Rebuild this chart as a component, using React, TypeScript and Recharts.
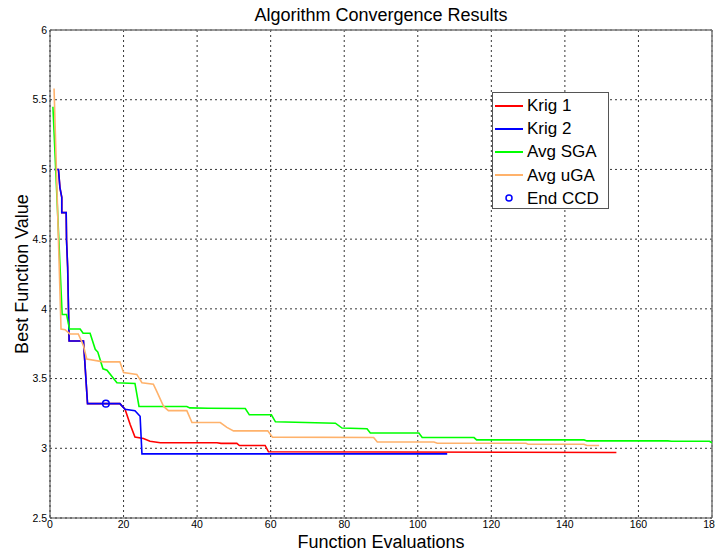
import React from "react";
import {
  ComposedChart,
  Line,
  Scatter,
  XAxis,
  YAxis,
  CartesianGrid,
  ReferenceLine,
  Legend,
} from "recharts";

// ---- data ----
const krig1X = [1.2, 2.3, 2.7, 3.2, 3.2, 4.4, 4.5, 4.8, 5.2, 9.1, 10.2, 19, 20.4, 21.8, 23.1, 25.4, 27.2, 30, 45.4, 46.5, 50.8, 51.5, 58.5, 59.4, 154];
const krig1Y = [5.0, 5.0, 4.87, 4.8, 4.69, 4.69, 4.49, 4.3, 3.77, 3.77, 3.32, 3.32, 3.28, 3.17, 3.08, 3.07, 3.05, 3.04, 3.04, 3.035, 3.035, 3.02, 3.02, 2.975, 2.97];

const krig2X = [1.2, 2.3, 2.7, 3.2, 3.2, 4.4, 4.5, 4.8, 5.2, 9.1, 10.2, 19, 20.4, 23.1, 24.5, 25, 108];
const krig2Y = [5.0, 5.0, 4.87, 4.8, 4.69, 4.69, 4.49, 4.3, 3.77, 3.77, 3.32, 3.32, 3.28, 3.27, 3.23, 2.96, 2.96];

const sgaX = [0.8, 3.3, 4.5, 5.3, 8.2, 9, 10.9, 12.3, 13, 14.4, 15.5, 18.2, 23.1, 24.2, 37.2, 38, 43, 53.1, 54.2, 60.2, 61.3, 77.6, 79.4, 86.2, 87.1, 100.3, 101.2, 115.3, 116, 145.2, 146, 168, 169, 179.3, 180];
const sgaY = [5.45, 3.96, 3.96, 3.855, 3.855, 3.825, 3.825, 3.71, 3.69, 3.57, 3.56, 3.47, 3.465, 3.3, 3.3, 3.29, 3.287, 3.285, 3.24, 3.24, 3.19, 3.18, 3.145, 3.14, 3.11, 3.11, 3.077, 3.077, 3.06, 3.06, 3.053, 3.053, 3.05, 3.05, 3.04];

const ugaX = [1.1, 3.0, 4.1, 5.4, 7.7, 9.1, 10, 14.5, 19, 20, 23.6, 25, 28.1, 29, 30.9, 32.2, 37.2, 38.6, 46.3, 48.1, 49.9, 59.2, 60.5, 88, 89, 104.4, 105.3, 129.4, 130, 145.2, 146, 149.3];
const ugaY = [5.58, 3.855, 3.85, 3.82, 3.82, 3.735, 3.64, 3.62, 3.62, 3.544, 3.53, 3.47, 3.46, 3.41, 3.3, 3.27, 3.27, 3.185, 3.185, 3.15, 3.125, 3.125, 3.08, 3.077, 3.045, 3.045, 3.036, 3.036, 3.029, 3.029, 3.02, 3.02];

const ccdX = [15.2];
const ccdY = [3.32];

const xTicks = [0, 20, 40, 60, 80, 100, 120, 140, 160, 180];
const yTicks = [2.5, 3, 3.5, 4, 4.5, 5, 5.5, 6];

const seriesNames = ["Krig 1", "Krig 2", "Avg SGA", "Avg uGA", "End CCD"];
const seriesColors = ["#ff0000", "#0000ff", "#00ff00", "#ffb26b", "#0000ff"];

const toPoints = (xs: number[], ys: number[]) => xs.map((x, i) => ({ x, y: ys[i] }));

const krig1 = toPoints(krig1X, krig1Y);
const krig2 = toPoints(krig2X, krig2Y);
const sga = toPoints(sgaX, sgaY);
const uga = toPoints(ugaX, ugaY);
const ccd = toPoints(ccdX, ccdY);

const tickFont = "'Liberation Sans Narrow', 'Arial Narrow', 'Liberation Sans', Arial, sans-serif";
const mainFont = "'Liberation Sans', Arial, sans-serif";

const LegendBox = () => (
  <div
    style={{
      width: 117,
      height: 117,
      boxSizing: "border-box",
      border: "1px solid #555",
      background: "#fff",
      fontFamily: mainFont,
      fontSize: 17,
      color: "#000",
      paddingTop: 1,
    }}
  >
    {seriesNames.map((name, i) => (
      <div key={name} style={{ display: "flex", alignItems: "center", height: 23.2, position: "relative" }}>
        <div style={{ width: 28, marginLeft: 2, display: "flex", justifyContent: "center", alignItems: "center" }}>
          {i < 4 ? (
            <div style={{ width: 28, height: 2, background: seriesColors[i] }} />
          ) : (
            <svg width={10} height={10}>
              <circle cx={5} cy={5} r={3} fill="none" stroke={seriesColors[i]} strokeWidth={1.5} />
            </svg>
          )}
        </div>
        <span style={{ marginLeft: 4, lineHeight: "23px" }}>{name}</span>
      </div>
    ))}
  </div>
);

const CcdShape = (props: any) => (
  <circle cx={props.cx} cy={props.cy} r={3.3} fill="none" stroke="#0000ff" strokeWidth={1.5} />
);

export default function App() {
  return (
    <div style={{ position: "absolute", left: 0, top: 0, width: 715, height: 554, background: "#fff" }}>
      <ComposedChart
        width={715}
        height={554}
        margin={{ top: 30, right: 3, bottom: 16, left: 0 }}
        style={{ fontFamily: mainFont }}
      >
        <CartesianGrid stroke="#000" strokeDasharray="2 3" strokeWidth={0.8} />
        <XAxis
          type="number"
          dataKey="x"
          domain={[0, 180]}
          ticks={xTicks}
          allowDataOverflow
          height={20}
          tickLine={false}
          tickSize={0}
          tickMargin={3}
          axisLine={{ stroke: "#444" }}
          tick={{ fontSize: 10.5, fill: "#000", fontFamily: tickFont }}
          interval={0}
          label={{ value: "Function Evaluations", position: "bottom", offset: -3, fontSize: 18, fill: "#000", fontFamily: mainFont }}
        />
        <YAxis
          type="number"
          dataKey="y"
          domain={[2.5, 6]}
          ticks={yTicks}
          allowDataOverflow
          width={50}
          tickLine={false}
          tickSize={0}
          tickMargin={3}
          axisLine={{ stroke: "#444" }}
          tick={{ fontSize: 10.5, fill: "#000", fontFamily: tickFont }}
          interval={0}
          label={{ value: "Best Function Value", angle: -90, position: "insideLeft", offset: 22, fontSize: 18, fill: "#000", fontFamily: mainFont, style: { textAnchor: "middle" } }}
        />
        <ReferenceLine y={6} stroke="#777" strokeWidth={1.5} />
        <ReferenceLine x={180} stroke="#777" strokeWidth={1.5} />
        <Line data={krig1} dataKey="y" name="Krig 1" stroke="#ff0000" strokeWidth={1.6} dot={false} type="linear" isAnimationActive={false} />
        <Line data={krig2} dataKey="y" name="Krig 2" stroke="#0000ff" strokeWidth={1.6} dot={false} type="linear" isAnimationActive={false} />
        <Line data={sga} dataKey="y" name="Avg SGA" stroke="#00ff00" strokeWidth={1.6} dot={false} type="linear" isAnimationActive={false} />
        <Line data={uga} dataKey="y" name="Avg uGA" stroke="#ffb26b" strokeWidth={1.6} dot={false} type="linear" isAnimationActive={false} />
        <Scatter data={ccd} dataKey="y" name="End CCD" fill="#0000ff" shape={CcdShape} isAnimationActive={false} />
        <Legend
          layout="horizontal"
          verticalAlign="middle"
          align="center"
          content={() => <LegendBox />}
          wrapperStyle={{ position: "absolute", left: 492, top: 92, width: 117, height: 117 }}
        />
        <text x={381} y={21} textAnchor="middle" fontSize={18} fill="#000" fontFamily={mainFont}>
          Algorithm Convergence Results
        </text>
      </ComposedChart>
    </div>
  );
}
